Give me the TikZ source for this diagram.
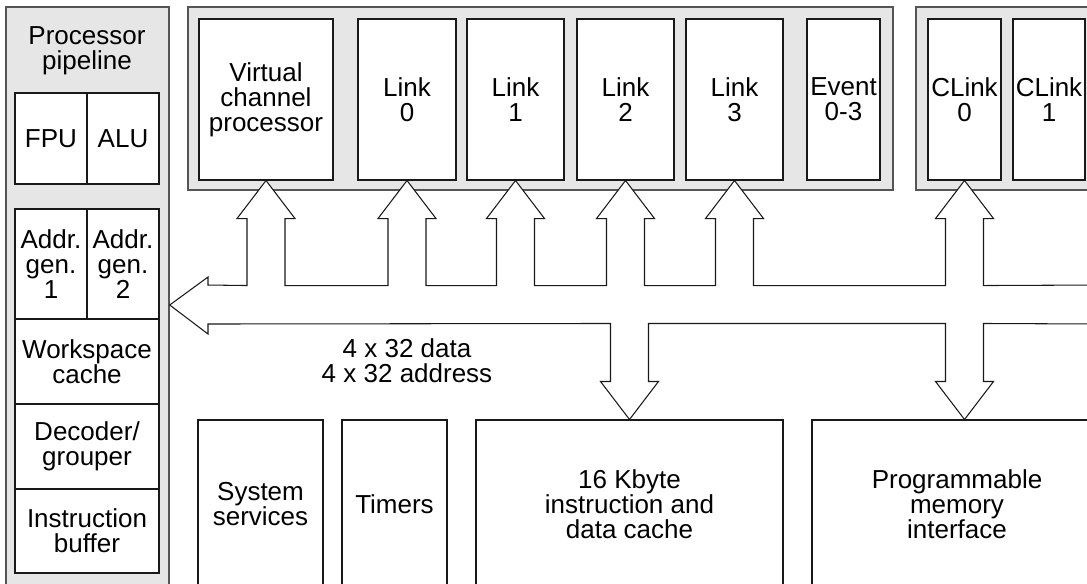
\documentclass[tikz,border=0pt]{standalone}
\usepackage{fontspec}
\setmainfont{Liberation Sans}
\usetikzlibrary{fit,positioning}
\definecolor{chipGray}{RGB}{230,230,230}
\definecolor{chipEdge}{RGB}{85,85,85}
\definecolor{chipLine}{RGB}{25,25,25}

\begin{document}
\begin{tikzpicture}[x=0.02cm,y=-0.02cm,
  caption/.style={align=center, font=\fontsize{14.8}{14.2}\selectfont},
  panel/.style={draw=chipEdge, fill=chipGray, line width=0.8pt, inner sep=0pt},
  unit/.style={draw=chipLine, fill=white, line width=0.6pt, inner sep=0pt,
    label={[caption]center:#1}},
  bus/.style={draw=chipLine, fill=white, line width=0.6pt, line join=miter}]
\useasboundingbox (0,0) rectangle (1087,583);
\clip (0,0) rectangle (1087,583);

% pipeline column
\node[panel, fit={(6,7) (169,603)}] (pipe) {};
\node[caption] (pipename) at (87,51) {Processor\\pipeline};
\node[unit={FPU}, fit={(15,93) (87,184)}] (fpu) {};
\node[unit={ALU}, fit={(87,93) (159,184)}] (alu) {};
\node[unit={Addr.\\gen.\\1}, fit={(15,209) (87,319)}] (agen1) {};
\node[unit={Addr.\\gen.\\2}, fit={(87,209) (159,319)}] (agen2) {};
\node[unit={Workspace\\cache}, fit={(15,319) (159,404)}] (wscache) {};
\node[unit={Decoder/\\grouper}, fit={(15,404) (159,489)}] (decoder) {};
\node[unit={Instruction\\buffer}, fit={(15,489) (159,573)}] (ibuf) {};

% link engines
\node[panel, fit={(188,7) (893,190)}] (linkbank) {};
\node[panel, fit={(916,7) (1110,190)}] (clinkbank) {};
\node[unit={Virtual\\channel\\processor}, fit={(199,19) (333,180)}] (vcp) {};
\foreach \i/\xa/\xb in {0/358/456, 1/467/564, 2/577/674, 3/686/783}
  \node[unit={Link\\\i}, fit={(\xa,19) (\xb,180)}] (link\i) {};
\node[unit={Event\\0-3}, fit={(807,19) (880,180)}] (event) {};
\node[unit={CLink\\0}, fit={(928,19) (1001,180)}] (clink0) {};
\node[unit={CLink\\1}, fit={(1013,19) (1085,180)}] (clink1) {};

% bottom row
\node[unit={System\\services}, fit={(198,420) (323,588)}] (sysserv) {};
\node[unit={Timers}, fit={(342,420) (447,588)}] (timers) {};
\node[unit={16 Kbyte\\instruction and\\data cache}, fit={(476,420) (783,588)}] (cache) {};
\node[unit={Programmable\\memory\\interface}, fit={(812,420) (1102,588)}] (pmi) {};

% internal bus
\coordinate (cachetip) at (cache.north);
\coordinate (pmitip) at (pmi.north -| clink0.south);
\draw[bus] (pipe.east) -- (208,277) -- (208,285)
  \foreach \n in {vcp,link0,link1,link2,link3,clink0} {
    -- ([shift={(-19,105)}]\n.south) -- ([shift={(-19,38)}]\n.south)
    -- ([shift={(-29,38)}]\n.south) -- (\n.south)
    -- ([shift={(29,38)}]\n.south) -- ([shift={(19,38)}]\n.south)
    -- ([shift={(19,105)}]\n.south)}
  -- (1100,285) -- (1100,324)
  \foreach \t in {pmitip,cachetip} {
    -- ([shift={(19,-96)}]\t) -- ([shift={(19,-38)}]\t)
    -- ([shift={(29,-38)}]\t) -- (\t)
    -- ([shift={(-29,-38)}]\t) -- ([shift={(-19,-38)}]\t)
    -- ([shift={(-19,-96)}]\t)}
  -- (208,324) -- (208,334) -- cycle;
\node[caption] (buswidth) at (407,361) {4 x 32 data\\4 x 32 address};
\end{tikzpicture}
\end{document}
